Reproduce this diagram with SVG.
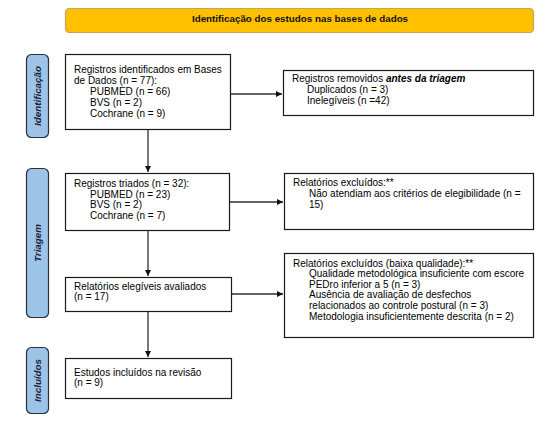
<svg xmlns="http://www.w3.org/2000/svg" width="554" height="423" viewBox="0 0 554 423">
<style>
.box{fill:#fff;stroke:#1a1a1a;stroke-width:1.2}
.side{fill:#9dc3e6;stroke:#2a2f3a;stroke-width:1.2}
.banner{fill:#ffc000;stroke:#c4a55a;stroke-width:1.2}
text{font-family:"Liberation Sans",Arial,sans-serif;font-size:10px;fill:#000}
.sl{font-weight:bold;font-style:italic;font-size:9.8px;fill:#1a2238;text-anchor:middle}
.ttl{font-weight:bold;font-size:9.8px;text-anchor:middle;fill:#111}
.con{stroke:#303030;stroke-width:1.3;fill:none;marker-end:url(#ah)}
</style>
<defs>
<marker id="ah" viewBox="0 0 10 10" refX="10" refY="5" markerWidth="6" markerHeight="6" markerUnits="userSpaceOnUse" orient="auto">
<path d="M0,0 L10,5 L0,10 z" fill="#111"/>
</marker>
</defs>
<rect width="554" height="423" fill="#fff"/>
<g id="banner">
<rect class="banner" x="65.5" y="8.5" width="468" height="24" rx="4"/>
<text class="ttl" x="300" y="21.5">Identificação dos estudos nas bases de dados</text>
</g>
<g id="side-identificacao">
<rect class="side" x="26.5" y="54.5" width="22" height="83" rx="5"/>
<text class="sl" transform="translate(41,96) rotate(-90)">Identificação</text>
</g>
<g id="side-triagem">
<rect class="side" x="26.5" y="168.5" width="22" height="149" rx="5"/>
<text class="sl" transform="translate(41,243) rotate(-90)">Triagem</text>
</g>
<g id="side-incluidos">
<rect class="side" x="26.5" y="347.5" width="22" height="66" rx="5"/>
<text class="sl" transform="translate(41,380.5) rotate(-90)">Incluídos</text>
</g>
<g id="connectors">
<line class="con" x1="230" y1="94" x2="282" y2="94"/>
<line class="con" x1="148" y1="129" x2="148" y2="172"/>
<line class="con" x1="229" y1="202" x2="283" y2="202"/>
<line class="con" x1="148" y1="230" x2="148" y2="276"/>
<line class="con" x1="231" y1="294" x2="283" y2="294"/>
<line class="con" x1="148" y1="311" x2="148" y2="357"/>
</g>
<g id="node-identificados">
<rect class="box" x="65.5" y="54.5" width="165" height="75"/>
<text x="74" y="73">Registros identificados em Bases</text>
<text x="74" y="84">de Dados (n = 77):</text>
<text x="90" y="95">PUBMED (n = 66)</text>
<text x="90" y="106">BVS (n = 2)</text>
<text x="90" y="117">Cochrane (n = 9)</text>
</g>
<g id="node-removidos">
<rect class="box" x="283.5" y="70.5" width="250" height="45"/>
<text x="292" y="82">Registros removidos <tspan font-weight="bold" font-style="italic">antes da triagem</tspan></text>
<text x="307" y="93">Duplicados (n = 3)</text>
<text x="307" y="104">Inelegíveis (n =42)</text>
</g>
<g id="node-triados">
<rect class="box" x="65.5" y="173.5" width="164" height="57"/>
<text x="74" y="186.5">Registros triados (n = 32):</text>
<text x="90" y="197.5">PUBMED (n = 23)</text>
<text x="90" y="208">BVS (n = 2)</text>
<text x="90" y="218.5">Cochrane (n = 7)</text>
</g>
<g id="node-excluidos1">
<rect class="box" x="284.5" y="173.5" width="249" height="56"/>
<text x="293" y="186">Relatórios excluídos:**</text>
<text x="309" y="197">Não atendiam aos critérios de elegibilidade (n =</text>
<text x="309" y="208">15)</text>
</g>
<g id="node-elegiveis">
<rect class="box" x="65.5" y="277.5" width="166" height="34"/>
<text x="74" y="289.5">Relatórios elegíveis avaliados</text>
<text x="74" y="300">(n = 17)</text>
</g>
<g id="node-excluidos2">
<rect class="box" x="284.5" y="253.5" width="249" height="84"/>
<text x="293" y="266.5">Relatórios excluídos (baixa qualidade):**</text>
<text x="309" y="277">Qualidade metodológica insuficiente com escore</text>
<text x="309" y="287.5">PEDro inferior a 5 (n = 3)</text>
<text x="309" y="298">Ausência de avaliação de desfechos</text>
<text x="309" y="308.5">relacionados ao controle postural (n = 3)</text>
<text x="309" y="319.5">Metodologia insuficientemente descrita (n = 2)</text>
</g>
<g id="node-incluidos">
<rect class="box" x="65.5" y="358.5" width="166" height="40"/>
<text x="74" y="375.5">Estudos incluídos na revisão</text>
<text x="74" y="385.5">(n = 9)</text>
</g>
</svg>
